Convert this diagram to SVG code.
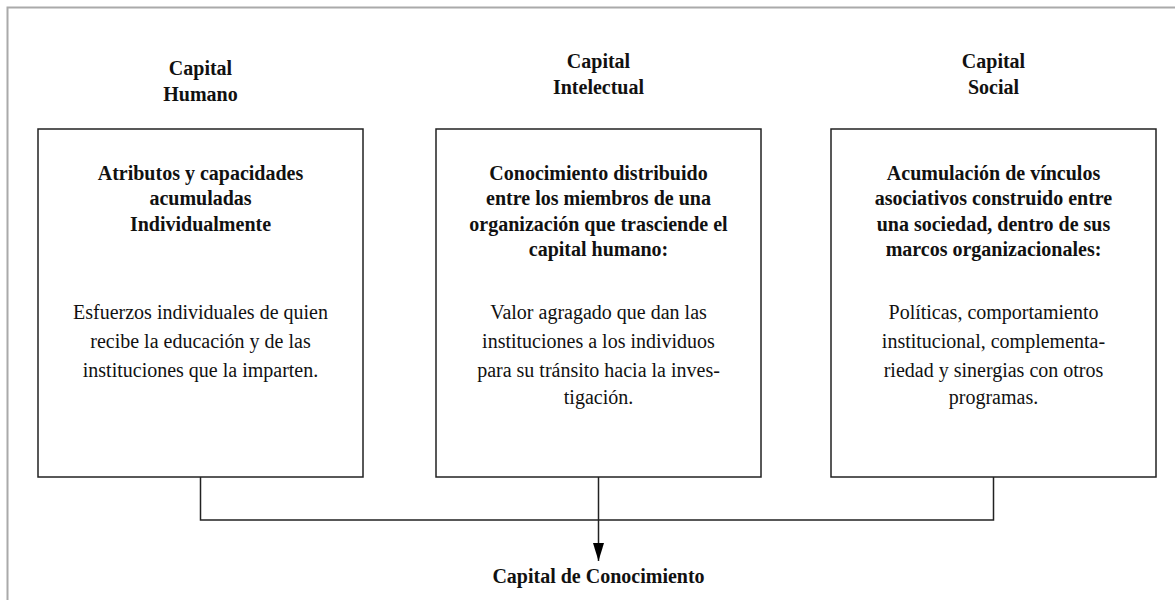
<svg xmlns="http://www.w3.org/2000/svg" width="1175" height="600" viewBox="0 0 1175 600">
<defs>
<style>
.t{font-family:"Liberation Serif","Times New Roman",serif;font-size:20px;fill:#111;text-anchor:middle}
.b{font-weight:bold}
.box{fill:#fff;stroke:#222;stroke-width:1.5}
.con{fill:none;stroke:#222;stroke-width:1.5}
.frame{fill:none;stroke:#aaa;stroke-width:2}
</style>
<marker id="arr" markerWidth="18" markerHeight="11" refX="18" refY="5.5" orient="auto" markerUnits="userSpaceOnUse" viewBox="0 0 18 11">
<path d="M0,0 L18,5.5 L0,11 Z" fill="#000"/>
</marker>
</defs>
<rect width="1175" height="600" fill="#fff"/>
<path class="frame" d="M7.5,600 V7.5 H1175"/>
<g id="connectors">
<path class="con" d="M200.5,477 V520 H993.5 V477"/>
<path class="con" d="M598.5,477 V561" marker-end="url(#arr)"/>
</g>
<g id="humano">
<text class="t b" x="200.5" y="74.5">Capital</text>
<text class="t b" x="200.5" y="100.5">Humano</text>
<rect class="box" x="38" y="129" width="325" height="348"/>
<text class="t b" x="200.5" y="179.5">Atributos y capacidades</text>
<text class="t b" x="200.5" y="205">acumuladas</text>
<text class="t b" x="200.5" y="230.5">Individualmente</text>
<text class="t" x="200.5" y="319">Esfuerzos individuales de quien</text>
<text class="t" x="200.5" y="348">recibe la educación y de las</text>
<text class="t" x="200.5" y="376.5">instituciones que la imparten.</text>
</g>
<g id="intelectual">
<text class="t b" x="598.5" y="67.5">Capital</text>
<text class="t b" x="598.5" y="93.5">Intelectual</text>
<rect class="box" x="436" y="129" width="325" height="348"/>
<text class="t b" x="598.5" y="179.5">Conocimiento distribuido</text>
<text class="t b" x="598.5" y="205">entre los miembros de una</text>
<text class="t b" x="598.5" y="230.5">organización que trasciende el</text>
<text class="t b" x="598.5" y="256">capital humano:</text>
<text class="t" x="598.5" y="319">Valor agragado que dan las</text>
<text class="t" x="598.5" y="348">instituciones a los individuos</text>
<text class="t" x="598.5" y="376.5">para su tránsito hacia la inves-</text>
<text class="t" x="598.5" y="404">tigación.</text>
</g>
<g id="social">
<text class="t b" x="993.5" y="67.5">Capital</text>
<text class="t b" x="993.5" y="93.5">Social</text>
<rect class="box" x="831" y="129" width="325" height="348"/>
<text class="t b" x="993.5" y="179.5">Acumulación de vínculos</text>
<text class="t b" x="993.5" y="205">asociativos construido entre</text>
<text class="t b" x="993.5" y="230.5">una sociedad, dentro de sus</text>
<text class="t b" x="993.5" y="256">marcos organizacionales:</text>
<text class="t" x="993.5" y="319">Políticas, comportamiento</text>
<text class="t" x="993.5" y="348">institucional, complementa-</text>
<text class="t" x="993.5" y="376.5">riedad y sinergias con otros</text>
<text class="t" x="993.5" y="404">programas.</text>
</g>
<g id="conocimiento">
<text class="t b" x="598.5" y="583">Capital de Conocimiento</text>
</g>
</svg>
